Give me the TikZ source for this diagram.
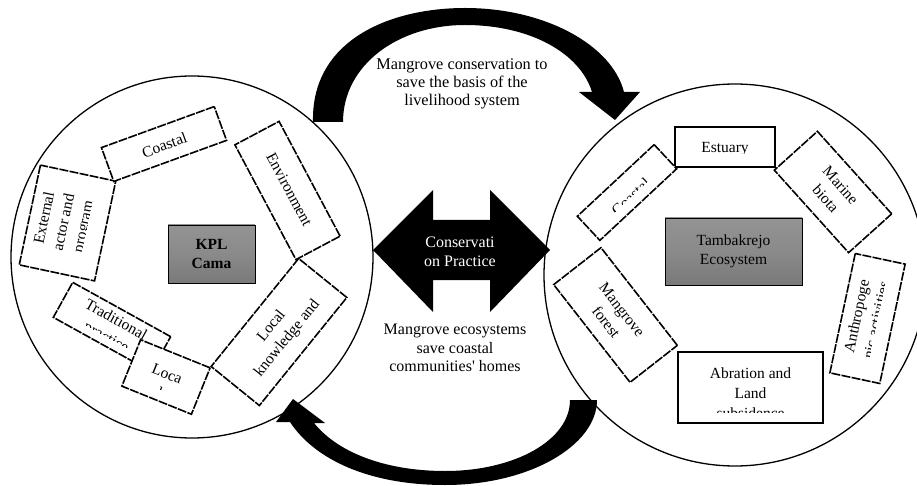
\documentclass[tikz,border=0pt]{standalone}
\usepackage{fontspec}
\setmainfont{Liberation Serif}
\definecolor{hubgray}{RGB}{138,138,138}
\newcommand\cutbox[9]{%
  \node[#6, rotate=#3, minimum width=#4, minimum height=#5] (#1) at #2 {};
  \begin{scope}[shift={#2}, rotate=#3]
    \clip (-#4/2,-#5/2+#8) rectangle (#4/2,#5/2);
    \node[boxtext, transform shape, anchor=north] (#1text) at (0,#5/2-#7+5.5) {#9};
  \end{scope}}
\tikzset{
  ring/.style={circle, draw, line width=1.3pt, inner sep=0pt},
  dbox/.style={draw, fill=white, line width=1.6pt, dash pattern=on 9pt off 1.3pt, inner sep=0pt},
  sbox/.style={draw, fill=white, line width=1.5pt, inner sep=0pt},
  boxtext/.style={align=center, inner sep=0pt, font=\fontsize{15.5}{20}\selectfont},
  hubbox/.style={draw, line width=0.8pt, inner sep=0pt, align=center,
    top color=hubgray!92!white, bottom color=hubgray!88!black, middle color=hubgray,
    font=\fontsize{15.5}{19}\selectfont},
  flowtext/.style={align=center, inner sep=0pt, font=\fontsize{16}{18.5}\selectfont},
}
\begin{document}
\begin{tikzpicture}[x=1pt, y=1pt]
\useasboundingbox (0,0) rectangle (917,485);
% the two systems
\node[ring, minimum size=362] (kplring) at (192,228) {};
\node[ring, minimum size=382] (ecoring) at (735,210) {};
% block arrows
\fill (313,363) .. controls (311,445) and (390,477) .. (465,477)
  .. controls (545,477) and (612,440) .. (624,393) -- (640,393) -- (615,365) -- (579,393) -- (592,393)
  .. controls (580,432) and (530,460) .. (465,460) .. controls (398,460) and (343,420) .. (343,363) -- cycle;
\fill (597,85) .. controls (597,40) and (530,0) .. (445,0) .. controls (370,0) and (315,25) .. (290,63)
  -- (276,63) -- (293,86) -- (325,62) -- (314,62)
  .. controls (340,30) and (390,14) .. (445,14) .. controls (515,14) and (570,45) .. (570,85) -- cycle;
\fill (373,235) -- (433,295) -- (433,265) -- (490,265) -- (490,295) -- (550,235)
  -- (490,173) -- (490,205) -- (433,205) -- (433,173) -- cycle;
% left circle
\cutbox{extL}{(67.5,262)}{78}{102}{77}{dbox}{14}{19}{External\\actor and\\program}
\cutbox{coastL}{(164,341)}{20}{120}{36}{dbox}{19}{0}{Coastal}
\cutbox{envL}{(287.5,294.5)}{-62}{130}{50}{dbox}{23}{0}{Environment}
\cutbox{tradL}{(112,158)}{-29}{112}{40}{dbox}{11}{9}{Traditional\\practice}
\cutbox{knowL}{(279,153)}{51}{139}{62}{dbox}{20}{0}{Local\\knowledge and}
\cutbox{locL}{(166,108)}{-22}{75}{50}{dbox}{22}{11}{Loca\\l}
\node[hubbox, minimum width=87, minimum height=58, font=\fontsize{15.5}{19}\selectfont\bfseries] (kpl) at (211.5,231) {KPL\\Cama};
% right circle
\cutbox{estR}{(725,338)}{0}{100}{40}{sbox}{21}{13}{Estuary}
\cutbox{marR}{(833,293)}{-48}{111}{58}{dbox}{19}{0}{Marine\\biota}
\cutbox{anthR}{(867.5,166.5)}{78}{122}{51}{dbox}{14}{16}{Anthropoge\\nic activities}
\cutbox{abrR}{(750.5,97.5)}{0}{145}{71}{sbox}{21}{11}{Abration and\\Land\\subsidence}
\cutbox{manR}{(615.5,170)}{-52}{124}{60}{dbox}{22}{0}{Mangrove\\forest}
\cutbox{coastR}{(627,292.5)}{43}{105}{33}{dbox}{22}{11}{Coastal}
\node[hubbox, minimum width=137, minimum height=67] (tamb) at (733.5,233.5) {Tambakrejo\\Ecosystem};
% texts between the circles
\node[flowtext, font=\fontsize{16.3}{18.3}\selectfont] (basis) at (462,401) {Mangrove conservation to\\save the basis of the\\livelihood system};
\node[flowtext, text=white] (practice) at (460,233) {Conservati\\on Practice};
\node[flowtext] (homes) at (455,137) {Mangrove ecosystems\\save coastal\\communities\textquotesingle\ homes};
\end{tikzpicture}
\end{document}
